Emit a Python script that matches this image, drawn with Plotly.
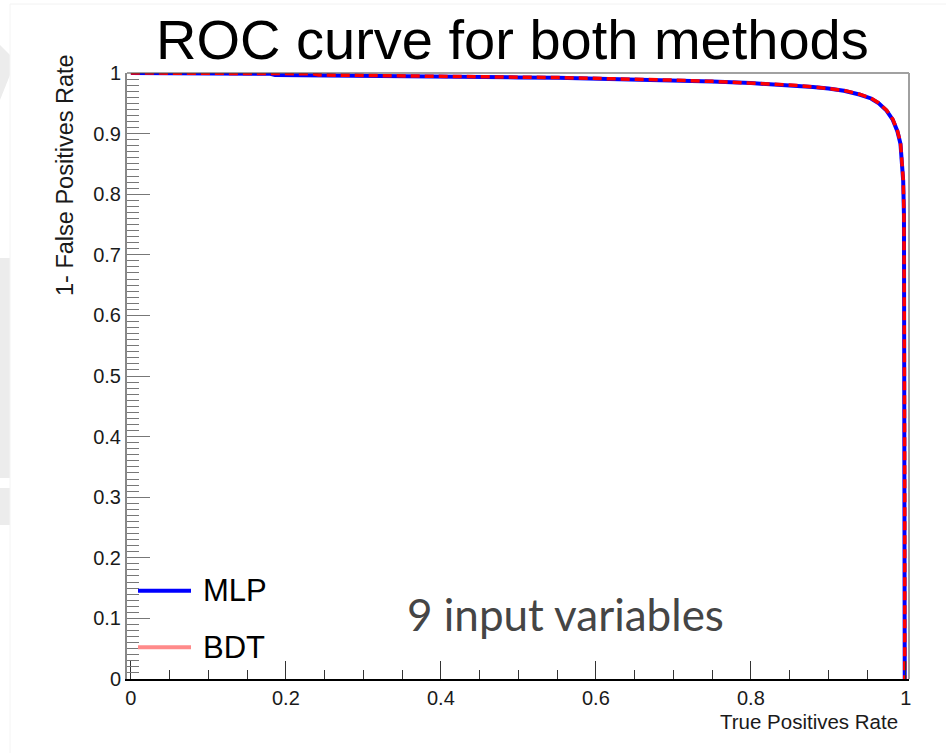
import plotly.graph_objects as go

# ---------------- data ----------------
tpr_mlp = [0.000, 0.050, 0.100, 0.150, 0.180, 0.186, 0.250, 0.300, 0.350, 0.400,
           0.450, 0.500, 0.550, 0.600, 0.650, 0.700, 0.750, 0.800, 0.850, 0.880,
           0.900, 0.920, 0.940, 0.955, 0.965, 0.975, 0.983, 0.989, 0.993, 0.995,
           0.9965, 0.9975, 0.998, 0.9985, 0.9985]
rej_mlp = [1.000, 0.9994, 0.9992, 0.9989, 0.9987, 0.9966, 0.9961, 0.9953, 0.9945, 0.9939,
           0.9932, 0.9927, 0.9921, 0.9909, 0.9895, 0.9878, 0.9858, 0.9834, 0.9799, 0.9769,
           0.9744, 0.9707, 0.9645, 0.9580, 0.9500, 0.9380, 0.9230, 0.9040, 0.8830, 0.8530,
           0.8220, 0.7650, 0.5900, 0.2800, 0.0000]

tpr_bdt = [0.000, 0.050, 0.100, 0.150, 0.200, 0.236, 0.242, 0.300, 0.350, 0.400,
           0.450, 0.500, 0.550, 0.600, 0.650, 0.700, 0.750, 0.800, 0.850, 0.880,
           0.900, 0.920, 0.940, 0.955, 0.965, 0.975, 0.983, 0.989, 0.993, 0.995,
           0.9965, 0.9975, 0.998, 0.9985, 0.9985]
rej_bdt = [1.000, 0.9995, 0.9993, 0.9991, 0.9989, 0.9988, 0.9968, 0.9957, 0.9950, 0.9944,
           0.9937, 0.9931, 0.9925, 0.9913, 0.9898, 0.9882, 0.9862, 0.9838, 0.9803, 0.9773,
           0.9748, 0.9712, 0.9650, 0.9585, 0.9505, 0.9385, 0.9240, 0.9050, 0.8850, 0.8550,
           0.8250, 0.7700, 0.6000, 0.3000, 0.0000]

x_tickvals = [0, 0.2, 0.4, 0.6, 0.8, 1.0]
x_ticktext = ["0", "0.2", "0.4", "0.6", "0.8", "1"]
y_tickvals = [0, 0.1, 0.2, 0.3, 0.4, 0.5, 0.6, 0.7, 0.8, 0.9, 1.0]
y_ticktext = ["0", "0.1", "0.2", "0.3", "0.4", "0.5", "0.6", "0.7", "0.8", "0.9", "1"]

series_names = ["MLP", "BDT"]
title_text = "ROC curve for both methods"
x_title = "True Positives Rate"
y_title = "1- False Positives Rate"
note_text = "9 input variables"

# ---------------- layout constants ----------------
W, H = 946, 753
L, R, T, B = 127, 909, 73, 679   # plot-area pixel edges


def px(xp):
    return (xp - L) / (R - L)


def py(yp):
    return (B - yp) / (B - T)


FONT = "Liberation Sans, Arial, Helvetica, sans-serif"

fig = go.Figure()
fig.add_trace(go.Scatter(x=tpr_mlp, y=rej_mlp, mode="lines", name=series_names[0],
                         line=dict(color="#0000ff", width=4), showlegend=False))
fig.add_trace(go.Scatter(x=tpr_bdt, y=rej_bdt, mode="lines", name=series_names[1],
                         line=dict(color="#ff0000", width=3.5, dash="9px,5px"),
                         showlegend=False))

shapes = []
# faint slide background pieces on the far left
shapes.append(dict(type="path", xref="paper", yref="paper", layer="below",
                   path=f"M {px(0)},{py(45)} L {px(10)},{py(55)} L {px(10)},{py(75)} L {px(0)},{py(100)} Z",
                   fillcolor="#ececec", line=dict(width=0)))
shapes.append(dict(type="rect", xref="paper", yref="paper", layer="below",
                   x0=px(0), x1=px(10), y0=py(258), y1=py(478),
                   fillcolor="#ececec", line=dict(width=0)))
shapes.append(dict(type="rect", xref="paper", yref="paper", layer="below",
                   x0=px(0), x1=px(10), y0=py(488), y1=py(525),
                   fillcolor="#ececec", line=dict(width=0)))
shapes.append(dict(type="line", xref="paper", yref="paper", layer="below",
                   x0=px(10), x1=px(946), y0=py(4), y1=py(4),
                   line=dict(color="#f2f2f2", width=1)))
shapes.append(dict(type="line", xref="paper", yref="paper", layer="below",
                   x0=px(10), x1=px(10), y0=py(4), y1=py(753),
                   line=dict(color="#f4f4f4", width=1)))
# frame top / right
shapes.append(dict(type="line", xref="paper", yref="paper", x0=0, x1=1, y0=1, y1=1,
                   line=dict(color="#444444", width=1.2)))
shapes.append(dict(type="line", xref="paper", yref="paper", x0=1, x1=1, y0=0, y1=1,
                   line=dict(color="#a0a0a0", width=2)))
# legend samples
shapes.append(dict(type="line", xref="paper", yref="paper",
                   x0=px(138), x1=px(191), y0=py(590.7), y1=py(590.7),
                   line=dict(color="#0000ff", width=4)))
shapes.append(dict(type="line", xref="paper", yref="paper",
                   x0=px(138), x1=px(191), y0=py(647.3), y1=py(647.3),
                   line=dict(color="#ff8a8a", width=4)))

annotations = [
    dict(text=title_text, xref="paper", yref="paper", x=px(512.5), y=py(39),
         xanchor="center", yanchor="middle", showarrow=False,
         font=dict(family=FONT, size=56, color="#000000")),
    dict(text=y_title, xref="paper", yref="paper", x=px(65), y=py(175),
         xanchor="center", yanchor="middle", textangle=-90, showarrow=False,
         font=dict(family=FONT, size=23.5, color="#1a1a1a")),
    dict(text=x_title, xref="paper", yref="paper", x=px(900), y=py(721),
         xanchor="right", yanchor="middle", showarrow=False,
         font=dict(family=FONT, size=20.5, color="#1a1a1a")),
    dict(text=series_names[0], xref="paper", yref="paper", x=px(201), y=py(590.7),
         xanchor="left", yanchor="middle", showarrow=False,
         font=dict(family=FONT, size=31, color="#000000")),
    dict(text=series_names[1], xref="paper", yref="paper", x=px(201), y=py(647.3),
         xanchor="left", yanchor="middle", showarrow=False,
         font=dict(family=FONT, size=31, color="#000000")),
    dict(text=note_text, xref="paper", yref="paper", x=px(565), y=py(614),
         xanchor="center", yanchor="middle", showarrow=False,
         font=dict(family="Lato, Open Sans, sans-serif", size=44, color="#454545")),
]

fig.update_layout(
    width=W, height=H, autosize=False,
    margin=dict(l=L, r=W - R, t=T, b=H - B, pad=0),
    paper_bgcolor="#ffffff", plot_bgcolor="#ffffff",
    shapes=shapes, annotations=annotations,
    showlegend=False,
    xaxis=dict(range=[-0.005, 1.004], tickvals=x_tickvals, ticktext=x_ticktext,
               ticks="inside", ticklen=18, tickwidth=1, tickcolor="#333333",
               minor=dict(tickvals=[0.05, 0.1, 0.15, 0.25, 0.3, 0.35, 0.45, 0.5, 0.55,
                                    0.65, 0.7, 0.75, 0.85, 0.9, 0.95],
                          ticks="inside", ticklen=9, tickwidth=1, tickcolor="#333333"),
               showline=True, linecolor="#000000", linewidth=1.5,
               showgrid=False, zeroline=False,
               tickfont=dict(family=FONT, size=20, color="#1a1a1a")),
    yaxis=dict(range=[0, 1], tickvals=y_tickvals, ticktext=y_ticktext,
               ticks="inside", ticklen=23, tickwidth=1, tickcolor="#777777",
               minor=dict(dtick=0.01, tick0=0, ticks="inside", ticklen=12,
                          tickwidth=1, tickcolor="#777777"),
               showline=True, linecolor="#888888", linewidth=2,
               showgrid=False, zeroline=False,
               tickfont=dict(family=FONT, size=20, color="#1a1a1a")),
)

fig.write_html("out.html")
